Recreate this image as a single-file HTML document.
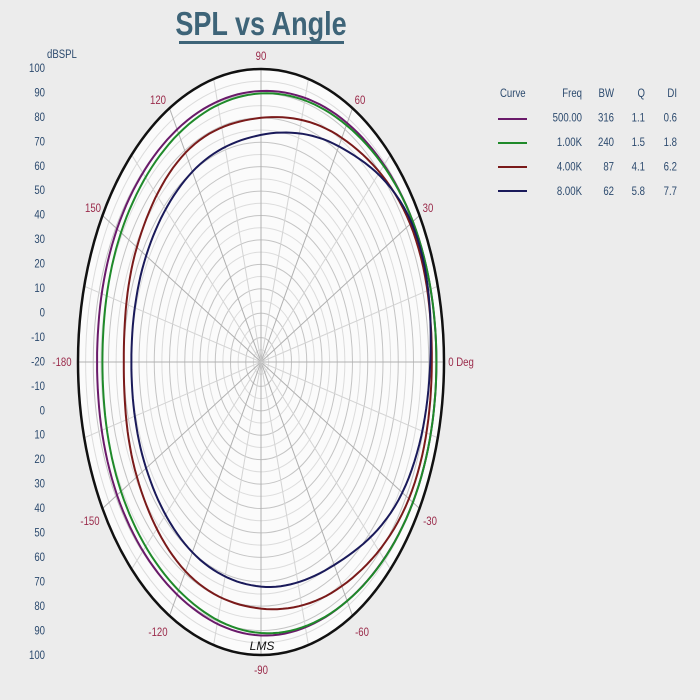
<!DOCTYPE html>
<html><head><meta charset="utf-8"><style>
html,body{margin:0;padding:0;background:#ececec;}
svg{display:block;font-family:"Liberation Sans",sans-serif;}
</style></head><body>
<svg id="s" width="700" height="700" viewBox="0 0 700 700" xmlns="http://www.w3.org/2000/svg">
<rect width="700" height="700" fill="#ececec"/>
<text x="0" y="35" font-size="33" font-weight="bold" fill="#3e6478" text-anchor="middle" transform="translate(261 0) scale(0.82 1)">SPL vs Angle</text>
<rect x="179" y="41" width="165" height="3" fill="#3e6478"/>
<text x="0" y="58" font-size="12" fill="#2c4a6e" transform="translate(47 0) scale(0.8 1)">dBSPL</text>
<g id="ylab" font-size="12" fill="#2c4a6e" text-anchor="end"></g>
<ellipse cx="261" cy="362" rx="183" ry="293" fill="#fbfbfb"/>
<g id="grid"></g>
<g id="curves" fill="none" stroke-width="2"></g>
<ellipse cx="261" cy="362" rx="183" ry="293" fill="none" stroke="#111" stroke-width="2.5"/>
<text x="262" y="650" font-size="12" font-style="italic" text-anchor="middle" fill="#111">LMS</text>
<g font-size="12" fill="#9a2a4a" text-anchor="middle" id="plab"></g>
<g font-size="12" fill="#2c4a6e" text-anchor="end" id="leg"></g>
<g stroke-width="2"><line x1="498" y1="119" x2="527" y2="119" stroke="#6a1a6a"/><line x1="498" y1="143" x2="527" y2="143" stroke="#1f8a2a"/><line x1="498" y1="167" x2="527" y2="167" stroke="#7a1a1a"/><line x1="498" y1="191" x2="527" y2="191" stroke="#1a1a5a"/></g>
</svg>
<script>
var NS="http://www.w3.org/2000/svg",cx=261,cy=362,RX=183,RY=293;
function el(t,a,p){var e=document.createElementNS(NS,t);for(var k in a)e.setAttribute(k,a[k]);p.appendChild(e);return e;}
function txt(p,x,y,s,anchor){var t=el('text',{x:0,y:y,transform:'translate('+x+' 0) scale(0.8 1)'},p);if(anchor)t.setAttribute('text-anchor',anchor);t.textContent=s;return t;}
var g=document.getElementById('grid');
for(var i=1;i<24;i++){var f=i/24;el('ellipse',{cx:cx,cy:cy,rx:RX*f,ry:RY*f,fill:'none',stroke:(i%2==0)?'#c4c4c4':'#dcdcdc','stroke-width':1},g);}
for(var a=0;a<360;a+=15){var r=a*Math.PI/180;el('line',{x1:cx,y1:cy,x2:cx+RX*Math.cos(r),y2:cy-RY*Math.sin(r),stroke:(a%30==0)?'#b0b0b0':'#d4d4d4','stroke-width':1},g);}
var yl=document.getElementById('ylab');
var labs=[100,90,80,70,60,50,40,30,20,10,0,-10,-20,-10,0,10,20,30,40,50,60,70,80,90,100];
for(var i=0;i<labs.length;i++){txt(yl,45,72+i*24.45,labs[i]);}
var pl=document.getElementById('plab');
[[261,60,'90'],[360,104,'60'],[428,212,'30'],[461,366,'0 Deg'],[430,525,'-30'],[362,636,'-60'],[261,674,'-90'],[158,636,'-120'],[90,525,'-150'],[62,366,'-180'],[93,212,'150'],[158,104,'120']].forEach(function(q){txt(pl,q[0],q[1],q[2]);});
var lg=document.getElementById('leg');
txt(lg,500,97,'Curve','start');
var rows=[['Freq','BW','Q','DI'],['500.00','316','1.1','0.6'],['1.00K','240','1.5','1.8'],['4.00K','87','4.1','6.2'],['8.00K','62','5.8','7.7']];
var xs=[582,614,645,677];
rows.forEach(function(r,j){r.forEach(function(s,k){txt(lg,xs[k],97+j*24.5,s);});});
var curves=[
 ['#6a1a6a',[95,95,93,91,90,89,87.5,89,90,92,93,95]],
 ['#1f8a2a',[95,95,92,90,88,86,84,86,88,91,93,95]],
 ['#7a1a1a',[92,93,86,80,79,74,70,74,79,81,86,92]],
 ['#1a1a5a',[91,94,82,73,70,67,65,67,70,72,76,87]]];
var cg=document.getElementById('curves');
curves.forEach(function(c){var d='',v=c[1];
 for(var deg=0;deg<=360;deg+=2){var s=deg/30,i1=Math.floor(s)%12,t=s-Math.floor(s);
  var p0=v[(i1+11)%12],p1=v[i1],p2=v[(i1+1)%12],p3=v[(i1+2)%12];
  var db=0.5*((2*p1)+(-p0+p2)*t+(2*p0-5*p1+4*p2-p3)*t*t+(-p0+3*p1-3*p2+p3)*t*t*t);
  var rr=(db+20)/120,r=deg*Math.PI/180;
  d+=(deg?'L':'M')+(cx+RX*rr*Math.cos(r)).toFixed(1)+' '+(cy-RY*rr*Math.sin(r)).toFixed(1);}
 el('path',{d:d,stroke:c[0]},cg);});
</script>
</body></html>
